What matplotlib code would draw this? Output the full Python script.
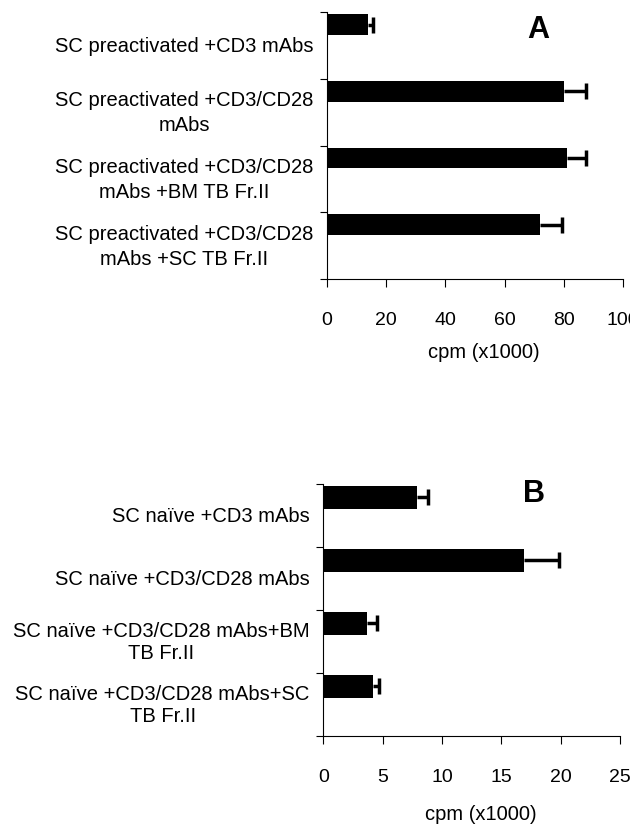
import matplotlib.pyplot as plt
import numpy as np

plt.rcParams['font.family'] = ['Liberation Sans', 'DejaVu Sans']

# panel A data
labels_a = ["SC preactivated +CD3 mAbs",
            "SC preactivated +CD3/CD28\nmAbs",
            "SC preactivated +CD3/CD28\nmAbs +BM TB Fr.II",
            "SC preactivated +CD3/CD28\nmAbs +SC TB Fr.II"]
values_a = [14, 80, 81, 72]
errors_a = [1.6, 7.5, 6.5, 7.5]
ticks_a = [0, 20, 40, 60, 80, 100]

# panel B data
labels_b = ["SC naïve +CD3 mAbs",
            "SC naïve +CD3/CD28 mAbs",
            "SC naïve +CD3/CD28 mAbs+BM\nTB Fr.II",
            "SC naïve +CD3/CD28 mAbs+SC\nTB Fr.II"]
values_b = [7.9, 16.9, 3.7, 4.2]
errors_b = [0.9, 3.0, 0.8, 0.5]
ticks_b = [0, 5, 10, 15, 20, 25]


def draw_panel(ax, labels, values, errors, ticks, letter, letter_pos,
               offset, height, linesp, label_y):
    n = len(values)
    pos = np.arange(n) - offset
    values = np.array(values)
    tops = values + np.array(errors)
    ax.barh(pos, values, height=height, color='black', zorder=2)
    # error bars: only the upper side, stem + cap
    ax.hlines(pos, values, tops, colors='black', linewidth=2.5, zorder=3)
    ax.plot(tops, pos, linestyle='none', marker='|', markersize=11,
            markeredgewidth=2.5, color='black', zorder=3)
    ax.set_ylim(n - 0.5, -0.5)
    ax.set_xlim(ticks[0], ticks[-1])
    ax.set_yticks(np.arange(n + 1) - 0.5)
    ax.set_yticklabels([])
    ax.tick_params(axis='y', length=5, direction='out')
    for i, lab in enumerate(labels):
        ax.text(-0.045, i, lab, transform=ax.get_yaxis_transform(),
                ha='right', va='center', multialignment='center',
                fontsize=14.5, linespacing=linesp)
    ax.set_xticks(ticks)
    ax.set_xticklabels([str(t) for t in ticks], fontsize=14)
    ax.tick_params(axis='x', length=6, direction='out', pad=17)
    ax.set_xlabel("cpm (x1000)", fontsize=14.5)
    ax.xaxis.label.set_va('center')
    ax.xaxis.set_label_coords(0.53, label_y)
    ax.spines['top'].set_visible(False)
    ax.spines['right'].set_visible(False)
    ax.text(letter_pos[0], letter_pos[1], letter, transform=ax.transAxes,
            fontsize=22, fontweight='bold', ha='center', va='baseline')


fig = plt.figure(figsize=(6.3, 8.28), dpi=100)
ax1 = fig.add_axes([0.519, 0.662, 0.470, 0.322])
ax2 = fig.add_axes([0.513, 0.110, 0.471, 0.304])

draw_panel(ax1, labels_a, values_a, errors_a, ticks_a, "A", (0.713, 0.908),
           0.313, 0.31, 1.4, -0.274)
draw_panel(ax2, labels_b, values_b, errors_b, ticks_b, "B", (0.71, 0.933),
           0.29, 0.36, 1.15, -0.31)

fig.savefig("out.png", dpi=100)
